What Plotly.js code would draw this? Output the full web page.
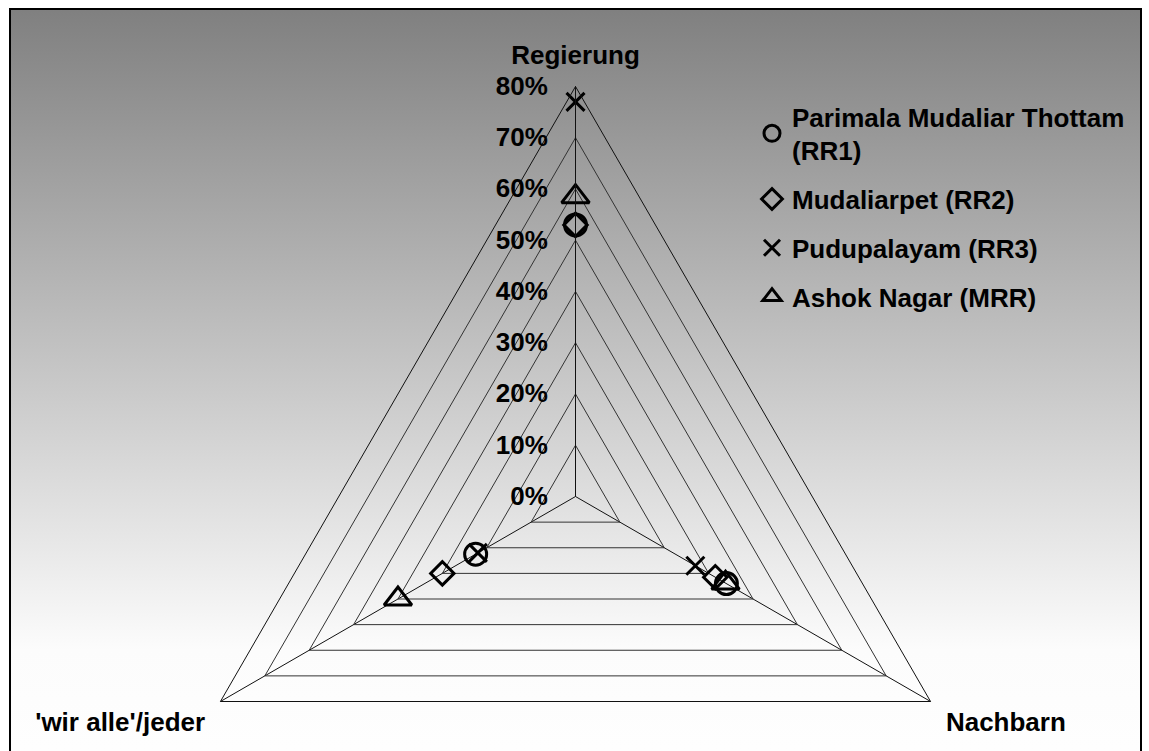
<!DOCTYPE html>
<html><head><meta charset="utf-8">
<script src="https://cdn.plot.ly/plotly-3.0.1.min.js"></script>
<style>
html,body{margin:0;padding:0;overflow:hidden;background:#fff;width:1149px;height:751px;}
#bg{position:absolute;left:9px;top:8px;width:1129px;height:790px;border:2px solid #000;background:linear-gradient(to bottom,#808080 0%,#fcfcfc 81%,#ffffff 100%);}
#chart{position:absolute;left:0;top:0;width:1149px;height:1000px;}
</style></head><body>
<div id="bg"></div><div id="chart"></div>
<script>
const categories = ["Regierung", "Nachbarn", "'wir alle'/jeder"];
const seriesNames = ["Parimala Mudaliar Thottam<br>(RR1)", "Mudaliarpet (RR2)", "Pudupalayam (RR3)", "Ashok Nagar (MRR)"];
const rr1 = [53, 34, 22.5];
const rr2 = [53, 31.5, 30];
const rr3 = [77, 27, 22];
const mrr = [58.5, 33.8, 40];
const tickValues = [0, 10, 20, 30, 40, 50, 60, 70, 80];
const tickLabels = ["0%", "10%", "20%", "30%", "40%", "50%", "60%", "70%", "80%"];

const symbols = ["circle-open", "diamond-open", "x-thin-open", "triangle-up-open"];
const sizes = [22, 18, 18, 24];
const allSeries = [rr1, rr2, rr3, mrr];

const font = {family: "Liberation Sans, Arial, sans-serif", size: 26, color: "#000", weight: "bold"};

const traces = allSeries.map((vals, i) => ({
  type: "scatterpolar",
  mode: "markers",
  r: vals,
  theta: categories,
  name: seriesNames[i],
  legendgroup: "g" + i,
  marker: {symbol: symbols[i], size: sizes[i], color: "#000", line: {color: "#000", width: 3}},
  cliponaxis: false
}));

const layout = {
  width: 1149, height: 1000,
  margin: {l: 0, r: 0, t: 0, b: 0},
  paper_bgcolor: "rgba(0,0,0,0)",
  plot_bgcolor: "rgba(0,0,0,0)",
  font: font,
  showlegend: true,
  legend: {x: 752/1149, y: 1 - 93/1000, xanchor: "left", yanchor: "top", bgcolor: "rgba(0,0,0,0)", font: font, tracegroupgap: 12},
  polar: {
    domain: {x: [165.5/1149, 985.5/1149], y: [1 - 906.5/1000, 1 - 86.5/1000]},
    bgcolor: "rgba(0,0,0,0)",
    gridshape: "linear",
    angularaxis: {
      type: "category", rotation: 90, direction: "clockwise",
      showline: true, linecolor: "#111", linewidth: 1,
      showgrid: true, gridcolor: "#111", gridwidth: 1,
      ticks: "outside", ticklen: 12, tickcolor: "rgba(0,0,0,0)", tickfont: font
    },
    radialaxis: {
      range: [0, 80], angle: 90, tickvals: tickValues, ticktext: tickLabels,
      side: "counterclockwise", tickangle: 90,
      showline: true, linecolor: "#111", linewidth: 1,
      showgrid: true, gridcolor: "#333", gridwidth: 1,
      ticks: "outside", ticklen: 18, tickcolor: "rgba(0,0,0,0)",
      tickfont: font
    }
  }
};

Plotly.newPlot("chart", traces, layout, {displayModeBar: false, staticPlot: true});
</script>
</body></html>
